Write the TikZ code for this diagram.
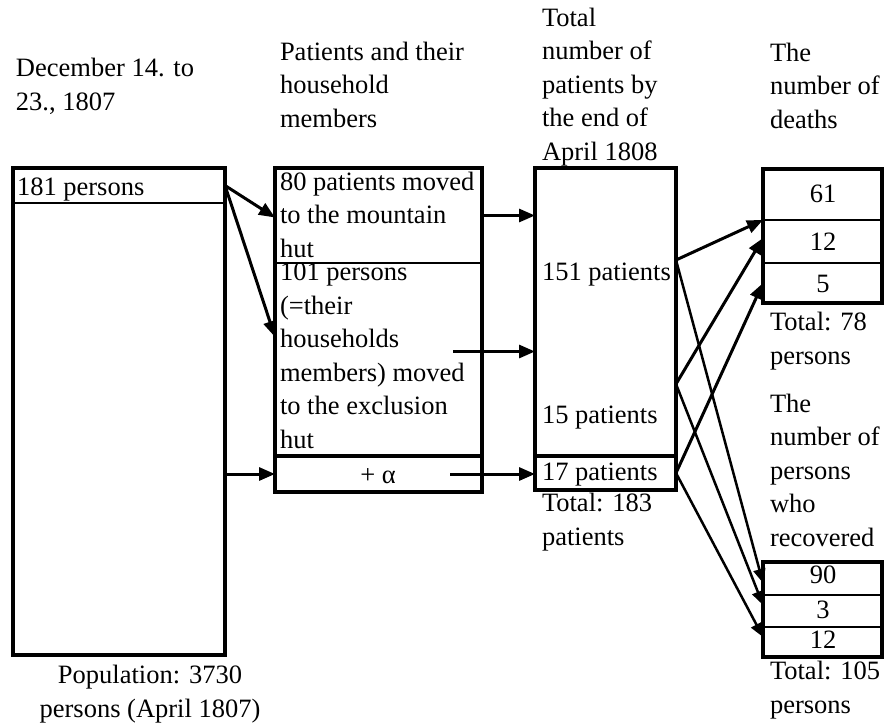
\documentclass[tikz,border=0pt]{standalone}
\usepackage{fontspec}
\setmainfont{Liberation Serif}
\usetikzlibrary{arrows.meta,calc}
\begin{document}
\begin{tikzpicture}[x=1pt,y=-1pt,
  every node/.style={font=\fontsize{26.5}{33.5}\selectfont, inner sep=0pt, outer sep=0pt},
  frame/.style={draw, line width=4.5pt, anchor=north west},
  cell/.style={draw, line width=2.5pt, anchor=north west},
  txt/.style={anchor=base west, align=left},
  num/.style={anchor=base},
  arr/.style={line width=3pt, -{Triangle[length=16pt,width=13pt]}},
  arrs/.style={line width=2.5pt, -{Triangle[length=14pt,width=12pt]}},
]
\useasboundingbox (0,0) rectangle (885,726);
% multi-line text nodes are placed by the baseline of their LAST line

% ---- left column
\node[cell, minimum width=212pt, minimum height=35pt] (r181) at (13,168) {};
\node[cell, minimum width=212pt, minimum height=452pt] (popbody) at (13,203) {};
\node[frame, minimum width=212pt, minimum height=487pt] (pop) at (13,168) {};
\node[txt] (h1) at (16,110) {December 14. to\\23., 1807};
\node[txt] (t181) at (17,195) {181 persons};
\node[anchor=base, align=center] (tpop) at (150,717) {Population: 3730\\persons (April 1807)};

% ---- middle column
\node[cell, minimum width=207pt, minimum height=95pt] (mtn) at (275,168) {};
\node[cell, minimum width=207pt, minimum height=193pt] (excl) at (275,263) {};
\node[cell, line width=4.5pt, minimum width=207pt, minimum height=36pt] (alpha) at (275,456) {};
\node[frame, minimum width=207pt, minimum height=324pt] (mid) at (275,168) {};
\node[txt] (h2) at (280,127) {Patients and their\\household\\members};
\node[txt] (tmtn) at (280,257) {80 patients moved\\to the mountain\\hut};
\node[txt] (texcl) at (280,448) {101 persons\\(=their\\households\\members) moved\\to the exclusion\\hut};
\node[num] (talpha) at (378,483) {+ α};

% ---- total column
\node[cell, minimum width=141pt, minimum height=288pt] (tp) at (535,168) {};
\node[cell, line width=4.5pt, minimum width=141pt, minimum height=34pt] (t17) at (535,456) {};
\node[frame, minimum width=141pt, minimum height=322pt] (tot) at (535,168) {};
\node[txt] (h3) at (542,160) {Total\\number of\\patients by\\the end of\\April 1808};
\node[txt] (t151) at (542,280) {151 patients};
\node[txt] (t15) at (542,423) {15 patients};
\node[txt] (t17t) at (542,480) {17 patients};
\node[txt] (ttot) at (542,545) {Total: 183\\patients};

% ---- deaths
\node[cell, minimum width=119pt, minimum height=51pt] (d61) at (763,169) {};
\node[cell, minimum width=119pt, minimum height=43pt] (d12) at (763,220) {};
\node[cell, minimum width=119pt, minimum height=40pt] (d5) at (763,263) {};
\node[frame, minimum width=119pt, minimum height=134pt] (dth) at (763,169) {};
\node[txt] (h4) at (770,128) {The\\number of\\deaths};
\node[num] (n61) at (823,202) {61};
\node[num] (n12) at (823,250) {12};
\node[num] (n5) at (823,292) {5};
\node[txt] (tdtot) at (770,364) {Total: 78\\persons};

% ---- recovered
\node[cell, minimum width=119pt, minimum height=33pt] (r90) at (763,562) {};
\node[cell, minimum width=119pt, minimum height=32pt] (r3) at (763,595) {};
\node[cell, minimum width=119pt, minimum height=30pt] (r12) at (763,627) {};
\node[frame, minimum width=119pt, minimum height=95pt] (rec) at (763,562) {};
\node[txt] (h5) at (770,546) {The\\number of\\persons\\who\\recovered};
\node[num] (n90) at (823,583) {90};
\node[num] (n3) at (823,618) {3};
\node[num] (n12r) at (823,648) {12};
\node[txt] (trtot) at (770,713) {Total: 105\\persons};

% ---- connectors
\coordinate (s5) at ([shift={(-29pt,8pt)}]excl.east);
\coordinate (s6) at ([xshift=-32pt]alpha.east);
\coordinate (o1) at ([yshift=-92pt]tp.north east);
\coordinate (o2) at ([yshift=-216pt]tp.north east);

\draw[arr] (r181.east) -- ([yshift=-2pt]mtn.west);
\draw[arr] (r181.east) -- ([yshift=-74pt]excl.north west);
\draw[arr] (pop.east |- alpha.west) -- (alpha.west);
\draw[arr] (mtn.east) -- (mtn.east -| tp.west);
\draw[arr] (s5) -- (s5 -| tp.west);
\draw[arr] (s6) -- (s6 -| t17.west);

\draw[arr] (o1) -- (d61.south west);
\draw[arr] (o2) -- ([yshift=-18pt]d12.north west);
\draw[arr] (t17.east) -- ([yshift=-20pt]d5.north west);

\draw[arrs] (o1) -- ([yshift=-21pt]r90.north west);
\draw[arrs] (o2) -- ([yshift=-10pt]r3.north west);
\draw[arrs] (t17.east) -- ([yshift=-10pt]r12.north west);
\end{tikzpicture}
\end{document}
